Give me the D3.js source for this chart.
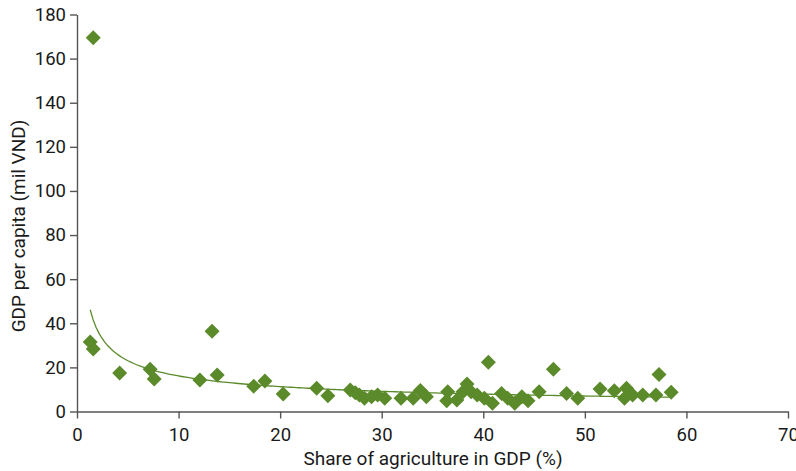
<!DOCTYPE html>
<html>
<head>
<meta charset="utf-8">
<script src="https://cdn.jsdelivr.net/npm/d3@7"></script>
<style>
  body { margin: 0; background: #fff; }
  svg text { font-family: Roboto, "Liberation Sans", sans-serif; fill: #1a1a1a; }
</style>
</head>
<body>
<div id="chart"></div>
<script>
// share of agriculture in GDP (%)
const agriShare = [
  1.6, 1.3, 1.6, 4.2, 7.2, 7.6, 12.1, 13.3, 13.8, 17.4, 18.5, 20.3,
  23.6, 24.7, 26.9, 27.4, 27.8, 28.3, 29.0, 29.6, 30.3, 31.9, 33.1, 33.8, 34.4,
  36.5, 36.4, 37.4, 38.0, 38.4, 38.8, 39.4, 40.1, 40.5, 40.9, 41.8, 42.4, 43.1,
  43.8, 44.4, 45.5, 46.9, 48.2, 49.3, 51.5, 52.9, 54.1, 53.9, 54.7, 55.7,
  57.0, 57.3, 58.5
];
// GDP per capita (mil VND)
const gdpPerCapita = [
  169.5, 31.5, 28.3, 17.4, 19.2, 14.7, 14.3, 36.4, 16.5, 11.5, 13.8, 7.9,
  10.5, 7.1, 9.7, 8.5, 7.5, 6.0, 6.7, 7.5, 6.0, 6.0, 6.0, 9.5, 6.7,
  9.0, 4.9, 5.2, 9.0, 12.5, 9.0, 7.5, 6.0, 22.3, 3.7, 8.2, 6.0, 3.7,
  6.7, 4.9, 9.0, 19.2, 8.2, 6.0, 10.2, 9.4, 10.5, 6.0, 7.5, 7.5,
  7.5, 16.8, 8.7
];
const xTicks = [0, 10, 20, 30, 40, 50, 60, 70];
const yTicks = [0, 20, 40, 60, 80, 100, 120, 140, 160, 180];

const width = 796,
  height = 471,
  margin = { top: 14.5, right: 8, bottom: 59.5, left: 77 };

const green = '#5b8a2b';

const points = agriShare.map((x, i) => ({ x, y: gdpPerCapita[i] }));

const x = d3.scaleLinear()
  .domain([0, 70])
  .range([margin.left, width - margin.right]);

const y = d3.scaleLinear()
  .domain([0, 180])
  .range([height - margin.bottom, margin.top]);

const svg = d3.select('#chart')
  .append('svg')
  .attr('width', width)
  .attr('height', height);

// axes
const xAxis = svg.append('g')
  .attr('transform', `translate(0,${y(0)})`)
  .call(d3.axisBottom(x).tickValues(xTicks).tickSize(7).tickPadding(9).tickSizeOuter(0));

const yAxis = svg.append('g')
  .attr('transform', `translate(${x(0)},0)`)
  .call(d3.axisLeft(y).tickValues(yTicks).tickSize(7).tickPadding(4).tickSizeOuter(0));

[xAxis, yAxis].forEach(a => {
  a.select('.domain').attr('stroke', '#555').attr('stroke-width', 1.4);
  a.selectAll('.tick line').attr('stroke', '#555').attr('stroke-width', 1.4);
  a.selectAll('.tick text').attr('font-size', 18.5).style('font-family', null);
});

// power trendline y = a * x^b, fitted in log space
const lx = points.map(p => Math.log(p.x)),
  ly = points.map(p => Math.log(p.y));
const mx = d3.mean(lx), my = d3.mean(ly);
const b = d3.sum(lx, (v, i) => (v - mx) * (ly[i] - my)) / d3.sum(lx, v => (v - mx) * (v - mx));
const a = Math.exp(my - b * mx);
const [xmin, xmax] = d3.extent(agriShare);
const trend = d3.range(0, 201).map(i => {
  const xv = xmin + (xmax - xmin) * i / 200;
  return { x: xv, y: a * Math.pow(xv, b) };
});

svg.append('path')
  .datum(trend)
  .attr('fill', 'none')
  .attr('stroke', green)
  .attr('stroke-width', 1.3)
  .attr('d', d3.line().x(d => x(d.x)).y(d => y(d.y)));

// markers
const r = 7.5;
svg.append('g')
  .selectAll('path')
  .data(points)
  .join('path')
  .attr('transform', d => `translate(${x(d.x)},${y(d.y)})`)
  .attr('d', `M0,${-r}L${r},0L0,${r}L${-r},0Z`)
  .attr('fill', green);

// axis titles
svg.append('text')
  .attr('x', 433)
  .attr('y', 465)
  .attr('text-anchor', 'middle')
  .attr('font-size', 19)
  .text('Share of agriculture in GDP (%)');

svg.append('text')
  .attr('transform', 'translate(25,226) rotate(-90)')
  .attr('text-anchor', 'middle')
  .attr('font-size', 19)
  .text('GDP per capita (mil VND)');
</script>
</body>
</html>
